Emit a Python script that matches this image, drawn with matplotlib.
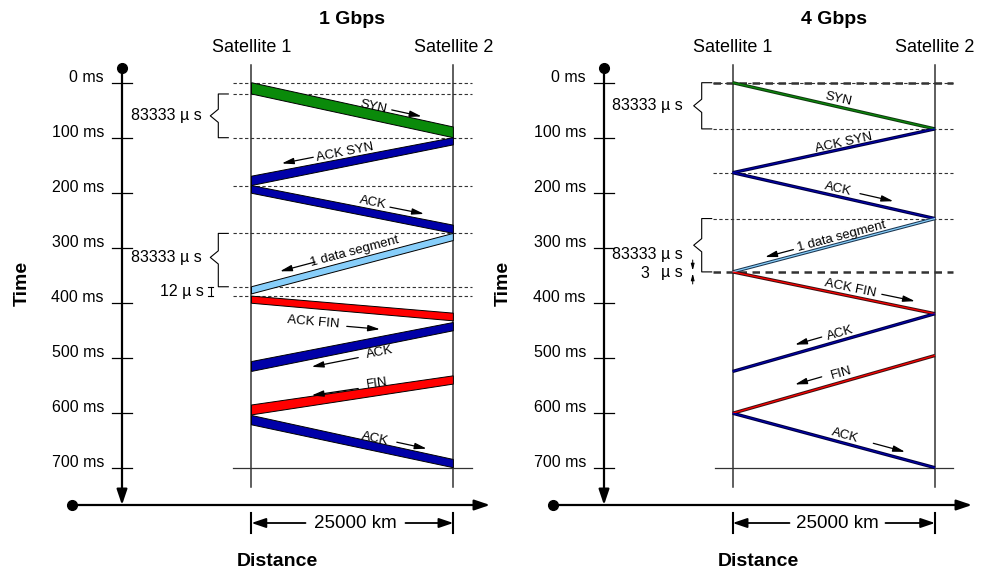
import numpy as np
import matplotlib
matplotlib.use("Agg")
import matplotlib.pyplot as plt
import matplotlib.transforms as mtransforms
from matplotlib.patches import Polygon

plt.rcParams['font.family'] = ['Liberation Sans', 'DejaVu Sans']

# ---------------- data ----------------
DIST = 25000  # km between satellites
time_ticks = [0, 100, 200, 300, 400, 500, 600, 700]
time_tick_labels = [f"{t} ms" for t in time_ticks]
titles = ["1 Gbps", "4 Gbps"]
node_labels = ["Satellite 1", "Satellite 2"]
dist_label = "25000 km"
msg_labels = ["SYN", "ACK SYN", "ACK", "1 data segment", "ACK FIN", "ACK", "FIN", "ACK"]
msg_kinds = ["syn", "ack", "ack", "data", "fin", "ack", "fin", "ack"]

# 1 Gbps: (start, end) of each segment at satellite 1 and satellite 2, in ms
g1_sat1 = [(0, 20.5), (170, 187), (187, 201), (371, 384), (388, 401), (507, 525), (586, 604), (605, 622)]
g1_sat2 = [(80.5, 100), (100, 113), (259, 274), (274, 287), (419, 433), (436, 451), (533, 548), (685, 700)]
g1_marks = [0, 20.5, 100, 187, 274, 371, 388]

# 4 Gbps: time at satellite 1 and satellite 2, in ms
g4_sat1 = [0, 163.6, 163.6, 344, 344, 525, 601, 601]
g4_sat2 = [84, 84, 247, 247, 420, 420, 496, 700]
g4_marks = [0, 84, 163.6, 247]
g4_marks_bold = [0, 344]

brace_label = "83333 \u00b5 s"
small_label_1 = "12 \u00b5 s"

# ---------------- style ----------------
fill_colors = {"syn": "#0a8a0a", "ack": "#0000a8", "data": "#87cefa", "fin": "#ff0000"}
thin_edge = {"syn": "#103a10", "ack": "#000040", "data": "#1a3550", "fin": "#401010"}

W, H = 985, 573
Y0, KY = 82.7, 0.55

fig = plt.figure(figsize=(W / 100, H / 100), dpi=100)


def setup(s1, s2):
    ax = fig.add_axes([0, 0, 1, 1])
    ax.patch.set_alpha(0)
    kx = (s2 - s1) / DIST
    ax.set_xlim((0 - s1) / kx, (W - s1) / kx)
    ax.set_ylim((H - Y0) / KY, (0 - Y0) / KY)
    ax.axis('off')
    X = lambda p: (p - s1) / kx
    Y = lambda p: (p - Y0) / KY
    return ax, X, Y


AX_HEAD = '-|>,head_length=0.62,head_width=0.21'
LB_HEAD = '-|>,head_length=0.65,head_width=0.17'


def arrow(ax, start, end, lw=1.5, ms=15, style=AX_HEAD, coords='data'):
    ax.annotate('', xy=end, xytext=start, xycoords=coords, textcoords=coords,
                arrowprops=dict(arrowstyle=style, lw=lw, color='k', mutation_scale=ms,
                                shrinkA=0, shrinkB=0))


def frame(ax, X, Y, s1, s2, axis_x, dot_x, arrow_x, title, dash_l, dash_r, dim_text_x, dim_gap, dist_x, time_x):
    # time axis
    ax.plot([X(axis_x)], [Y(68)], 'o', color='k', ms=7)
    arrow(ax, (X(axis_x), Y(68)), (X(axis_x), Y(505)), lw=1.6)
    for t, lab in zip(time_ticks, time_tick_labels):
        ax.plot([X(axis_x - 10), X(axis_x + 10)], [t, t], color='k', lw=0.9)
        ax.text(X(axis_x - 18), t - 10, lab, ha='right', va='center', fontsize=11.5)
    # distance axis
    ax.plot([X(dot_x)], [Y(505)], 'o', color='k', ms=7)
    arrow(ax, (X(dot_x), Y(505)), (X(arrow_x), Y(505)), lw=1.6)
    # satellites
    for xk, lab in zip([0, DIST], node_labels):
        ax.plot([xk, xk], [Y(65), Y(487)], color='#333333', lw=1.1)
        ax.text(xk, Y(47), lab, ha='center', va='center', fontsize=13)
    ax.text(DIST / 2, Y(20), title, ha='center', va='center', fontsize=14, fontweight='bold')
    ax.plot([X(dash_l), X(dash_r)], [700, 700], color='#333333', lw=0.9)
    # dimension
    for xk in [0, DIST]:
        ax.plot([xk, xk], [Y(513), Y(533)], color='k', lw=1.5)
    ax.text(X(dim_text_x), Y(523), dist_label, ha='center', va='center', fontsize=13.5)
    arrow(ax, (X(dim_text_x - dim_gap), Y(523)), (0, Y(523)), lw=1.3, ms=14)
    arrow(ax, (X(dim_text_x + dim_gap), Y(523)), (DIST, Y(523)), lw=1.3, ms=14)
    ax.text(X(dist_x), Y(561), "Distance", ha='center', va='center', fontsize=14, fontweight='bold')
    ax.text(X(time_x), Y(283), "Time", ha='center', va='center', fontsize=14, fontweight='bold', rotation=90)


def dashes(ax, X, marks, l, r, lw=0.8):
    for t in marks:
        ax.plot([X(l), X(r)], [t, t], color='#333333', lw=lw, ls=(0, (3, 2.2)))


def brace(ax, X, x, t0, t1, tn, lip=10, notch=8, nh=12):
    xs = [X(x + lip), X(x), X(x), X(x - notch), X(x), X(x), X(x + lip)]
    ts = [t0, t0, tn - nh, tn, tn + nh, t1, t1]
    ax.plot(xs, ts, color='k', lw=0.8)


def label(ax, i, m1, m2, lab_pos, arr_pos, fs=9.5):
    p1 = ax.transData.transform((0, m1))
    p2 = ax.transData.transform((DIST, m2))
    ang = np.degrees(np.arctan2(p2[1] - p1[1], p2[0] - p1[0]))
    f, off = lab_pos
    tr = mtransforms.offset_copy(ax.transData, fig=fig, x=0, y=off, units='dots')
    ax.text(f * DIST, m1 + f * (m2 - m1), msg_labels[i], transform=tr, rotation=ang,
            rotation_mode='anchor', ha='center', va='center', fontsize=fs)
    if arr_pos is not None:
        a0, a1, aoff = arr_pos
        tr2 = mtransforms.offset_copy(ax.transData, fig=fig, x=0, y=aoff, units='dots')
        arrow(ax, (a0 * DIST, m1 + a0 * (m2 - m1)), (a1 * DIST, m1 + a1 * (m2 - m1)),
              lw=0.9, ms=11, style=LB_HEAD, coords=tr2)


# ================= left panel: 1 Gbps =================
axL, XL, YL = setup(251.5, 453.3)
frame(axL, XL, YL, 251.5, 453.3, 122, 72, 490, titles[0], 233, 472, 355.5, 50, 277, 22)
dashes(axL, XL, g1_marks, 232.7, 471.7)
L_lab = [(0.604, 8), (0.463, 10), (0.604, 10.5), (0.509, 12), (0.306, -17), (0.637, -11.6), (0.62, 8), (0.612, 7.7)]
L_arr = [(0.695, 0.843, 9), (0.306, 0.150, 11.5), (0.686, 0.855, 9.6), (0.315, 0.141, 11.5),
         (0.472, 0.637, -18.5), (0.529, 0.298, -12.2), (0.529, 0.298, 5.6), (0.72, 0.868, 9.2)]
for i, (a, b) in enumerate(zip(g1_sat1, g1_sat2)):
    poly = Polygon([(0, a[0]), (DIST, b[0]), (DIST, b[1]), (0, a[1])], closed=True,
                   facecolor=fill_colors[msg_kinds[i]], edgecolor='k', lw=0.7, zorder=3)
    axL.add_patch(poly)
    label(axL, i, (a[0] + a[1]) / 2, (b[0] + b[1]) / 2, L_lab[i], L_arr[i])

brace(axL, XL, 218.3, g1_marks[1], g1_marks[2], (g1_marks[1] + g1_marks[2]) / 2)
axL.text(XL(202), (g1_marks[1] + g1_marks[2]) / 2, brace_label, ha='right', va='center', fontsize=11.5)
brace(axL, XL, 218.3, g1_marks[4], g1_marks[5], g1_marks[4] + 0.45 * (g1_marks[5] - g1_marks[4]))
axL.text(XL(202), g1_marks[4] + 0.45 * (g1_marks[5] - g1_marks[4]), brace_label, ha='right', va='center', fontsize=11.5)
# 12 us marker
axL.plot([XL(211), XL(211)], [g1_marks[5], g1_marks[6]], color='k', lw=0.8)
for t in (g1_marks[5], g1_marks[6]):
    axL.plot([XL(208.5), XL(213.5)], [t, t], color='k', lw=0.8)
axL.text(XL(204), (g1_marks[5] + g1_marks[6]) / 2, small_label_1, ha='right', va='center', fontsize=11.5)

# ================= right panel: 4 Gbps =================
axR, XR, YR = setup(732.7, 935)
frame(axR, XR, YR, 732.7, 935, 604, 553, 972, titles[1], 715, 953, 837.5, 48, 758, 503)
dashes(axR, XR, g4_marks, 713, 953)
dashes(axR, XR, g4_marks_bold, 713, 953, lw=1.8)
R_lab = [(0.522, 8), (0.547, 5.6), (0.522, 7.4), (0.539, 6.7), (0.58, 7.8), (0.53, 7.8), (0.539, 9), (0.555, 7.5)]
R_arr = [None, None, (0.629, 0.794, 7.9), (0.3, 0.16, 6.3), (0.737, 0.901, 8.4),
         (0.44, 0.308, 9), (0.44, 0.308, 11), (0.695, 0.852, 7.8)]
for i, (a, b) in enumerate(zip(g4_sat1, g4_sat2)):
    k = msg_kinds[i]
    axR.plot([0, DIST], [a, b], color=thin_edge[k], lw=2.4, solid_capstyle='butt', zorder=3)
    axR.plot([0, DIST], [a, b], color=fill_colors[k], lw=0.9, solid_capstyle='butt', zorder=4)
    label(axR, i, a, b, R_lab[i], R_arr[i])

brace(axR, XR, 701.7, g4_marks[0], g4_marks[1], (g4_marks[0] + g4_marks[1]) / 2)
axR.text(XR(683), (g4_marks[0] + g4_marks[1]) / 2, brace_label, ha='right', va='center', fontsize=11.5)
brace(axR, XR, 701.7, g4_marks[3], g4_marks_bold[1], (g4_marks[3] + g4_marks_bold[1]) / 2)
axR.text(XR(683), YR(255), brace_label, ha='right', va='center', fontsize=11.5)
axR.text(XR(645), YR(273), "3", ha='center', va='center', fontsize=11.5)
axR.text(XR(683), YR(273), "\u00b5 s", ha='right', va='center', fontsize=11.5)
# 3 us marker
arrow(axR, (XR(692.7), YR(260)), (XR(692.7), YR(270.5)), lw=0.7, ms=6, style=LB_HEAD)
arrow(axR, (XR(692.7), YR(284)), (XR(692.7), YR(273.5)), lw=0.7, ms=6, style=LB_HEAD)

fig.savefig("out.png", dpi=100)
